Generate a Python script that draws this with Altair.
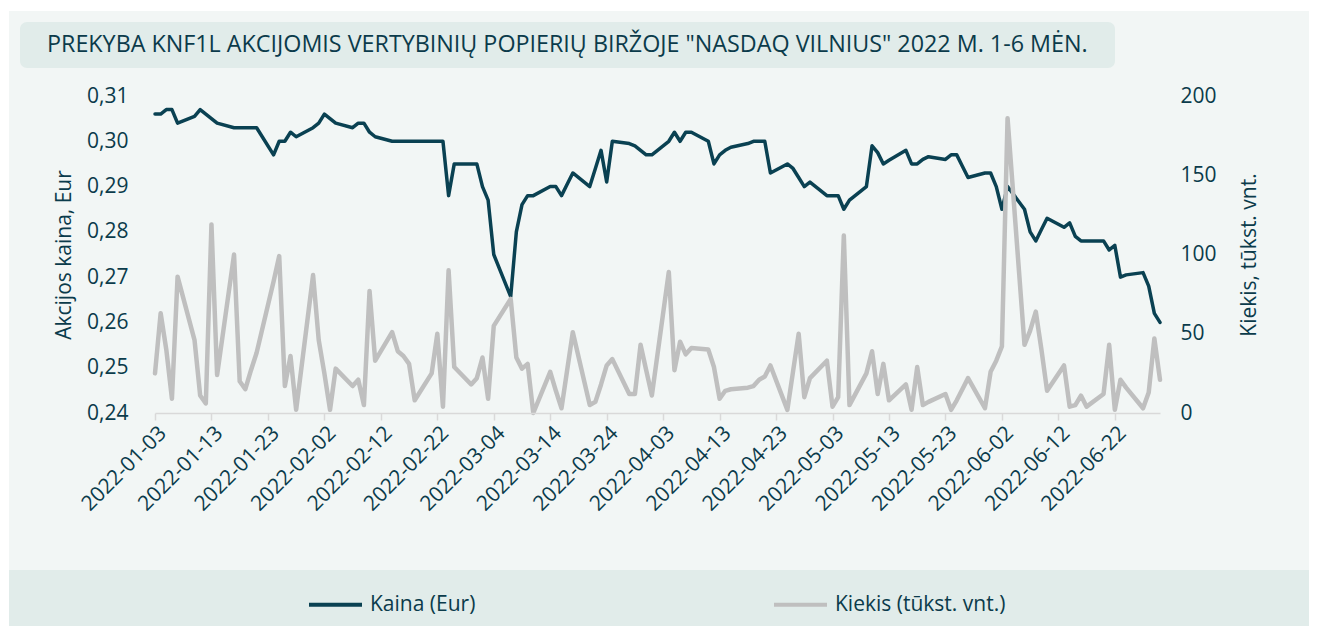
import altair as alt
import pandas as pd

TITLE = 'PREKYBA KNF1L AKCIJOMIS VERTYBINIŲ POPIERIŲ BIRŽOJE "NASDAQ VILNIUS" 2022 M. 1-6 MĖN.'
PRICE_TITLE = "Akcijos kaina, Eur"
VOLUME_TITLE = "Kiekis, tūkst. vnt."
SERIES = ["Kaina (Eur)", "Kiekis (tūkst. vnt.)"]

# trading days (weekdays) of 2022 H1
dates = [d.strftime("%Y-%m-%d") for d in pd.bdate_range("2022-01-03", "2022-06-30")]

price = [
    # Jan
    0.306, 0.306, 0.307, 0.307, 0.304, 0.3055, 0.307, 0.306, 0.305, 0.304, 0.303,
    0.303, 0.303, 0.303, 0.303, 0.297, 0.300, 0.300, 0.302, 0.301, 0.303,
    # Feb
    0.304, 0.306, 0.305, 0.304, 0.303, 0.304, 0.304, 0.302, 0.301, 0.300,
    0.300, 0.300, 0.300, 0.300, 0.300, 0.300, 0.300, 0.288, 0.295, 0.295,
    # Mar
    0.295, 0.290, 0.287, 0.275, 0.2657, 0.280, 0.286, 0.288, 0.288, 0.290, 0.290, 0.288,
    0.2905, 0.293, 0.290, 0.294, 0.298, 0.291, 0.300, 0.2995, 0.299, 0.298, 0.297,
    # Apr
    0.297, 0.300, 0.302, 0.300, 0.302, 0.302, 0.300, 0.295, 0.297, 0.298, 0.2987,
    0.2995, 0.300, 0.300, 0.300, 0.293, 0.295, 0.294, 0.292, 0.290, 0.291,
    # May
    0.288, 0.288, 0.288, 0.285, 0.287, 0.290, 0.299, 0.2975, 0.295, 0.2958, 0.298,
    0.295, 0.295, 0.296, 0.2966, 0.296, 0.297, 0.297, 0.2945, 0.292, 0.293, 0.293,
    # Jun
    0.290, 0.285, 0.290, 0.285, 0.280, 0.278, 0.2805, 0.283, 0.281, 0.282, 0.279,
    0.278, 0.278, 0.278, 0.276, 0.277, 0.270, 0.2705, 0.271, 0.268, 0.262, 0.260,
]

volume = [
    # Jan
    25, 63, 40, 9, 86, 46, 11, 6, 119, 24, 100, 20, 15, 27, 38, 83, 99, 17, 36, 2, 87,
    # Feb
    46, 25, 2, 28, 17, 21, 5, 77, 33, 51, 39, 36, 31, 8, 25, 50, 4, 90, 29, 18,
    # Mar
    22, 35, 9, 55, 72, 35, 28, 31, 0, 26, 14, 3, 27, 51, 5, 7, 18, 30, 34, 12, 12, 43, 27,
    # Apr
    11, 89, 27, 45, 37, 41, 40, 29, 9, 14, 15, 16, 17, 21, 23, 30, 2, 26, 50, 10, 22,
    # May
    33, 4, 10, 112, 5, 25, 39, 12, 31, 8, 18, 2, 29, 5, 7, 12, 2, 8, 15, 22, 3, 26,
    # Jun
    33, 42, 186, 43, 52, 64, 40, 14, 30, 4, 5, 11, 4, 12, 43, 2, 21, 16, 3, 13, 47, 21,
]

tick_dates = [
    "2022-01-03", "2022-01-13", "2022-01-23", "2022-02-02", "2022-02-12", "2022-02-22",
    "2022-03-04", "2022-03-14", "2022-03-24", "2022-04-03", "2022-04-13", "2022-04-23",
    "2022-05-03", "2022-05-13", "2022-05-23", "2022-06-02", "2022-06-12", "2022-06-22",
]
price_ticks = [0.24, 0.25, 0.26, 0.27, 0.28, 0.29, 0.30, 0.31]
volume_ticks = [0, 50, 100, 150, 200]

TEAL = "#0a4152"
GREY = "#bfbfbf"
TEXT = "#0b3b4b"
LIGHT = "#f2f6f5"
BAND = "#e1ecea"
FONT = "Open Sans"

W, H = 1005, 317
PAD = {"left": 147, "top": 88, "right": 149, "bottom": 213}

df = pd.DataFrame({"date": dates, "price": price, "volume": volume})
one = pd.DataFrame({"t": [TITLE]})


def dt(s):
    y, m, d = (int(v) for v in s.split("-"))
    return alt.DateTime(year=y, month=m, date=d, utc=True)


x_enc = alt.X(
    "date:T",
    scale=alt.Scale(type="utc", domain=[dt(dates[0]), dt(dates[-1])]),
    axis=alt.Axis(
        values=[dt(s) for s in tick_dates],
        labelExpr="utcFormat(datum.value, '%Y-%m-%d')",
        labelAngle=315, title=None, grid=False, zindex=1,
        domainColor="#d9d9d9", domainWidth=1.5, tickColor="#d9d9d9", tickWidth=1.5,
        tickSize=7, labelFont=FONT, labelFontSize=21, labelColor=TEXT, labelPadding=2,
        labelOverlap=False,
    ),
)

color_enc = alt.Color(
    "series:N",
    scale=alt.Scale(domain=SERIES, range=[TEAL, GREY]),
    legend=alt.Legend(
        orient="none", legendX=152, legendY=480, direction="horizontal", title=None,
        symbolType="stroke", symbolSize=2809, symbolStrokeWidth=4,
        labelFont=FONT, labelFontSize=21, labelColor=TEXT, labelOffset=6,
        labelLimit=500, columnPadding=290, zindex=1,
    ),
)

bg = alt.Chart(one).mark_rect(color=LIGHT).encode(
    x=alt.value(-146), x2=alt.value(W + 149), y=alt.value(-85), y2=alt.value(474)
)
band = alt.Chart(one).mark_rect(color=BAND).encode(
    x=alt.value(-146), x2=alt.value(W + 149), y=alt.value(474), y2=alt.value(H + 213)
)
title_box = alt.Chart(one).mark_rect(color=BAND, cornerRadius=7).encode(
    x=alt.value(-135), x2=alt.value(960), y=alt.value(-74), y2=alt.value(-28)
)
title_text = alt.Chart(one).mark_text(
    align="left", baseline="middle", font=FONT, fontSize=23.3, color=TEXT
).encode(x=alt.value(-108), y=alt.value(-51), text="t:N")

price_line = alt.Chart(df).transform_calculate(
    series=f'"{SERIES[0]}"'
).mark_line(strokeWidth=3.5, strokeJoin="round", strokeCap="round").encode(
    x=x_enc,
    y=alt.Y(
        "price:Q",
        scale=alt.Scale(domain=[0.24, 0.31], nice=False, zero=False),
        axis=alt.Axis(
            orient="left", values=price_ticks, grid=False, domain=False, ticks=False,
            zindex=1,
            labelExpr="replace(format(datum.value, '.2f'), '.', ',')",
            labelFont=FONT, labelFontSize=21, labelColor=TEXT, labelPadding=27,
            title=PRICE_TITLE, titleFont=FONT, titleFontSize=21, titleFontWeight="normal",
            titleColor=TEXT, titlePadding=12,
        ),
    ),
    color=color_enc,
)

volume_line = alt.Chart(df).transform_calculate(
    series=f'"{SERIES[1]}"'
).mark_line(strokeWidth=4.5, strokeJoin="round", strokeCap="round").encode(
    x=x_enc,
    y=alt.Y(
        "volume:Q",
        scale=alt.Scale(domain=[0, 200], nice=False),
        axis=alt.Axis(
            orient="right", values=volume_ticks, grid=False, domain=False, ticks=False,
            zindex=1,
            labelFont=FONT, labelFontSize=21, labelColor=TEXT, labelPadding=20,
            title=VOLUME_TITLE, titleFont=FONT, titleFontSize=21, titleFontWeight="normal",
            titleColor=TEXT, titlePadding=22, titleAngle=270, titleBaseline="top",
        ),
    ),
    color=color_enc,
)

chart = (
    alt.layer(bg, band, title_box, title_text, price_line, volume_line)
    .resolve_scale(y="independent")
    .properties(
        width=W, height=H, padding=PAD,
        autosize=alt.AutoSizeParams(type="none"), background="white",
    )
    .configure_view(stroke=None)
)

chart.save("out.html", embed_options={"renderer": "svg", "actions": False})
